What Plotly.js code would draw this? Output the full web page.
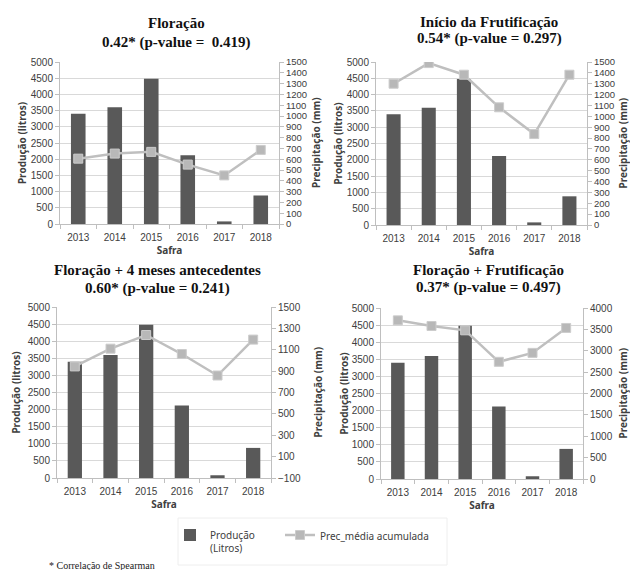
<!DOCTYPE html>
<html>
<head>
<meta charset="utf-8">
<script src="https://cdn.plot.ly/plotly-3.0.1.min.js"></script>
<style>html,body{margin:0;padding:0;background:#fff;}#chart{width:630px;height:570px;}</style>
</head>
<body>
<div id="chart"></div>
<script>
// ---- data ----
const years = ['2013', '2014', '2015', '2016', '2017', '2018'];
const producao = [3400, 3600, 4480, 2120, 80, 880];
const precFloracao = [605, 652, 668, 550, 450, 686];
const precInicioFrut = [1300, 1490, 1383, 1083, 837, 1383];
const precFlor4Meses = [944, 1110, 1238, 1060, 859, 1195];
const precFlorFrut = [3711, 3579, 3478, 2741, 2950, 3533];
const panelTitles = ['Floração', 'Início da Frutificação', 'Floração + 4 meses antecedentes', 'Floração + Frutificação'];
const panelStats = ['0.42* (p-value = \u00a00.419)', '0.54* (p-value = 0.297)', '0.60* (p-value = 0.241)', '0.37* (p-value = 0.497)'];
const legendNames = ['Produção<br>(Litros)', 'Prec_média acumulada'];
const xTitle = 'Safra';
const yLeftTitle = 'Produção (litros)';
const yRightTitle = 'Precipitação (mm)';
const footnote = '* Correlação de Spearman';

const precSeries = [precFloracao, precInicioFrut, precFlor4Meses, precFlorFrut];

// ---- layout geometry (pixels) ----
const W = 630, H = 570;
const boxes = [
  {l: 60, r: 279, t: 62, b: 224},
  {l: 376, r: 587, t: 62, b: 225},
  {l: 57, r: 271, t: 307, b: 478},
  {l: 381, r: 583, t: 308, b: 479}
];
const rightRanges = [[0, 1500, 100], [0, 1500, 100], [-100, 1500, 200], [0, 4000, 500]];
const titleCenters = [[176, 23, 42], [489, 22, 39], [157, 270, 288], [488, 270, 287]];
const rightTitleX = [316, 622, 317, 622];
const yLStand = [2, 2, 5, 1];

const barColor = '#595959';
const lineColor = '#bfbfbf';
const axisColor = '#bfbfbf';
const gridColor = '#d9d9d9';
const tickFont = {family: 'Liberation Sans, Arial, sans-serif', size: 10, color: '#404040'};
const denseTickFont = {family: 'Liberation Sans, Arial, sans-serif', size: 9.5, color: '#404040'};
const axTitleFont = {family: 'Noto Sans, sans-serif', size: 10, color: '#404040', weight: 'bold'};
const legendFont = {family: 'Noto Sans, sans-serif', size: 10, color: '#404040'};

const traces = [];
const layout = {
  width: W, height: H,
  margin: {l: 0, r: 0, t: 0, b: 0},
  paper_bgcolor: '#ffffff', plot_bgcolor: '#ffffff',
  bargap: 0.6,
  showlegend: true,
  legend: {
    orientation: 'h', x: 170 / W, xanchor: 'left', y: 1 - 522 / H, yanchor: 'top',
    bgcolor: 'rgba(0,0,0,0)', borderwidth: 0, font: legendFont, valign: 'top', itemclick: false
  },
  legend2: {
    orientation: 'h', x: 280 / W, xanchor: 'left', y: 1 - 522 / H, yanchor: 'top',
    bgcolor: 'rgba(0,0,0,0)', borderwidth: 0, font: legendFont, valign: 'top', itemclick: false
  },
  shapes: [{
    type: 'rect', xref: 'paper', yref: 'paper', layer: 'below',
    x0: 178 / W, x1: 447 / W, y0: 1 - 565 / H, y1: 1 - 518 / H,
    line: {color: '#eeeeee', width: 1}, fillcolor: 'rgba(0,0,0,0)'
  }],
  annotations: [],
  font: {family: 'Noto Sans, sans-serif'}
};

boxes.forEach((b, i) => {
  const n = i + 1;
  const xa = 'xaxis' + (n === 1 ? '' : n);
  const yl = 2 * i + 1, yr = 2 * i + 2;
  const yla = 'yaxis' + (yl === 1 ? '' : yl);
  const yra = 'yaxis' + yr;
  const xref = 'x' + (n === 1 ? '' : n);
  const ylref = 'y' + (yl === 1 ? '' : yl);
  const yrref = 'y' + yr;

  traces.push({
    type: 'bar', x: years, y: producao, xaxis: xref, yaxis: ylref,
    name: legendNames[0], marker: {color: barColor}, showlegend: i === 0, legend: 'legend',
    hoverinfo: 'x+y'
  });
  traces.push({
    type: 'scatter', mode: 'lines+markers', x: years, y: precSeries[i], xaxis: xref, yaxis: yrref,
    name: legendNames[1], line: {color: lineColor, width: 2.5},
    marker: {symbol: 'square', size: 9, color: '#b8b8b8', line: {color: '#cccccc', width: 1}},
    showlegend: i === 0, legend: 'legend2', hoverinfo: 'x+y'
  });

  layout[xa] = {
    domain: [b.l / W, b.r / W], anchor: ylref, type: 'category',
    showline: true, linecolor: axisColor, linewidth: 1,
    ticks: 'outside', tickson: 'boundaries', ticklen: 4, tickcolor: axisColor,
    ticklabelstandoff: 4,
    tickfont: tickFont, showgrid: false, zeroline: false,
    title: {text: xTitle, font: axTitleFont, standoff: 0}
  };
  layout[yla] = {
    domain: [1 - b.b / H, 1 - b.t / H], anchor: xref, range: [0, 5000], dtick: 500,
    showline: true, linecolor: axisColor, linewidth: 1,
    ticks: 'outside', ticklen: 4, tickcolor: axisColor,
    tickfont: tickFont, showgrid: true, gridcolor: gridColor, gridwidth: 1, zeroline: false,
    title: {text: yLeftTitle, font: axTitleFont, standoff: yLStand[i]}
  };
  const rr = rightRanges[i];
  layout[yra] = {
    overlaying: ylref, anchor: xref, side: 'right', range: [rr[0], rr[1]], dtick: rr[2], tick0: rr[0],
    showline: true, linecolor: axisColor, linewidth: 1,
    ticks: 'outside', ticklen: 4, tickcolor: axisColor,
    tickfont: rr[2] === 100 ? denseTickFont : tickFont, showgrid: false, zeroline: false
  };
  // right axis title
  layout.annotations.push({
    xref: 'paper', yref: 'paper', x: rightTitleX[i] / W, y: 1 - ((b.t + b.b) / 2) / H,
    xanchor: 'center', yanchor: 'middle', textangle: -90,
    text: '<b>' + yRightTitle + '</b>', showarrow: false, font: axTitleFont
  });

  const tc = titleCenters[i];
  layout.annotations.push({
    xref: 'paper', yref: 'paper', x: tc[0] / W, y: 1 - tc[1] / H, xanchor: 'center', yanchor: 'middle',
    text: '<b>' + panelTitles[i] + '</b>', showarrow: false,
    font: {family: 'Liberation Serif, Times New Roman, serif', size: 15, color: '#111111'}
  });
  layout.annotations.push({
    xref: 'paper', yref: 'paper', x: tc[0] / W, y: 1 - tc[2] / H, xanchor: 'center', yanchor: 'middle',
    text: '<b>' + panelStats[i] + '</b>', showarrow: false,
    font: {family: 'Liberation Serif, Times New Roman, serif', size: 15, color: '#111111'}
  });
});

layout.annotations.push({
  xref: 'paper', yref: 'paper', x: 47 / W, y: 1 - 565 / H, xanchor: 'left', yanchor: 'middle',
  text: footnote, showarrow: false,
  font: {family: 'Liberation Serif, serif', size: 10, color: '#222222'}
});

Plotly.newPlot('chart', traces, layout, {staticPlot: true, displayModeBar: false});
</script>
</body>
</html>
